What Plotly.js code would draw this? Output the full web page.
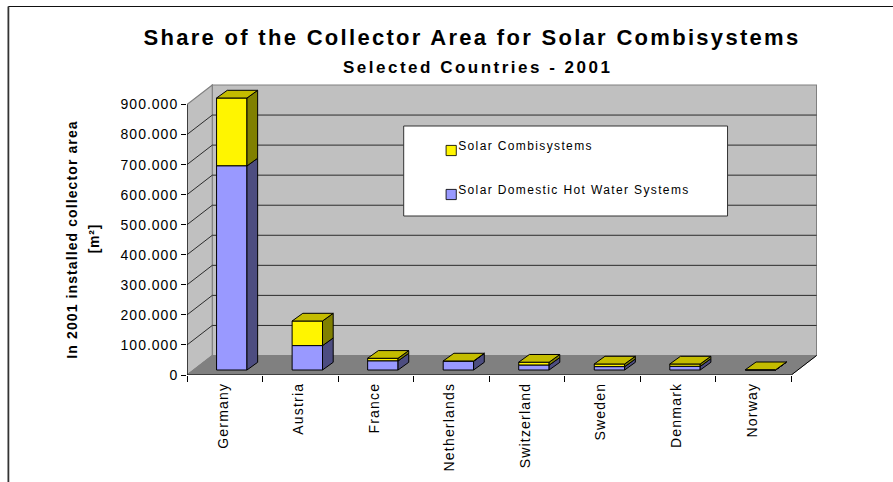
<!DOCTYPE html>
<html><head><meta charset="utf-8">
<script src="https://cdn.plot.ly/plotly-3.0.1.min.js"></script>
<style>
html,body{margin:0;padding:0;background:#fff;overflow:hidden}
#chart{width:893px;height:482px}
.gtitle{letter-spacing:2.3px}
.annotation-text{letter-spacing:2.5px}
.ytick text{letter-spacing:1px}
.xtick text{letter-spacing:1.2px}
.ytitle{letter-spacing:1.1px}
.legend .scrollbox{clip-path:none!important}
.legend .legendtext{letter-spacing:1.37px;transform:translate(-13px,-1px)}
.legend .legendpoints path{transform:translate(20px,4px) scale(.85)}
</style></head><body><div id="chart"></div>
<script>
var countries=["Germany","Austria","France","Netherlands","Switzerland","Sweden","Denmark","Norway"];
var hotWater=[679000,81000,30000,29000,16000,11000,12000,500];
var combi=[226000,82000,9000,1000,10000,9000,8000,500];
var yTicks=[0,100000,200000,300000,400000,500000,600000,700000,800000,900000];
var yLabels=["0","100.000","200.000","300.000","400.000","500.000","600.000","700.000","800.000","900.000"];

// pixel frame of the front plane
var W=893,H=482,L=186.7,R=817,T=84,B=375;
var pxPerCat=75.575, pxPerVal=270.5/900000;
var dx=function(p){return p/pxPerCat}, dy=function(p){return p/pxPerVal};
var wallX=dx(25.3), wallY=dy(19.5);
var barOffX=dx(7), barOffY=dy(5), barW=dx(30.4), sideX=dx(10.7), sideY=dy(7.7);
var n=countries.length, maxV=yTicks[yTicks.length-1];

function poly(xs,ys,fill,lc,lw,layer){
  var p='M'+xs.map(function(x,i){return x+','+ys[i]}).join('L')+'Z';
  return {type:'path',path:p,xref:'x',yref:'y',fillcolor:fill,line:{color:lc,width:lw},layer:layer||'below'};
}
function seg(xs,ys,lc,lw){
  return {type:'path',path:'M'+xs.map(function(x,i){return x+','+ys[i]}).join('L'),xref:'x',yref:'y',
    line:{color:lc,width:lw},layer:'below'};
}
var shapes=[];
// back wall, left wall, floor
shapes.push(poly([wallX,n+wallX,n+wallX,wallX],[wallY,wallY,maxV+wallY,maxV+wallY],'#C0C0C0','#808080',1.2));
shapes.push(poly([0,wallX,wallX,0],[0,wallY,maxV+wallY,maxV],'#C0C0C0','#808080',1.2));
shapes.push(poly([0,n,n+wallX,wallX],[0,0,wallY,wallY],'#808080','#808080',1));
// gridlines
yTicks.slice(1,-1).forEach(function(v){
  shapes.push(seg([0,wallX,n+wallX],[v,v+wallY,v+wallY],'#2b2b2b',1));
});
// axis lines
shapes.push(seg([0,0],[0,maxV],'#000',1.2));
shapes.push(seg([0,n],[0,0],'#000',1.2));
shapes.push(seg([n,n+wallX],[0,wallY],'#000',1));
// legend box
var fx=function(p){return (p-L)/(R-L)}, fy=function(p){return (B-p)/(B-T)};
shapes.push({type:'rect',xref:'paper',yref:'paper',layer:'above',
  x0:fx(403.5),x1:fx(727.5),y0:fy(216),y1:fy(126),
  fillcolor:'#fff',line:{color:'#333',width:1}});
// chart frame
shapes.push({type:'path',xref:'paper',yref:'paper',layer:'below',
  path:'M'+fx(8)+','+fy(482)+'L'+fx(8)+','+fy(6.5),line:{color:'#333',width:1.8}});
shapes.push({type:'path',xref:'paper',yref:'paper',layer:'below',
  path:'M'+fx(8)+','+fy(6.5)+'L'+fx(893)+','+fy(6.5),line:{color:'#111',width:1.2}});

var centers=countries.map(function(_,i){return i+0.5+barOffX});
var lowerBase=countries.map(function(){return barOffY});
var upperBase=hotWater.map(function(v){return v+barOffY});
var edge={color:'#000',width:1};
var traces=[
 {type:'bar',name:'Solar Combisystems',x:centers,y:combi,base:upperBase,width:barW,legendgroup:'b',
  marker:{color:'#FFF500',line:edge},hoverinfo:'y'},
 {type:'bar',name:'Solar Domestic Hot Water Systems',x:centers,y:hotWater,base:lowerBase,width:barW,legendgroup:'a',
  marker:{color:'#9999FF',line:edge},hoverinfo:'y'}
];
function face(xs,ys,color){
  traces.push({type:'scatter',mode:'lines',x:xs,y:ys,fill:'toself',fillcolor:color,
    line:{color:'#000',width:1},showlegend:false,hoverinfo:'skip'});
}
countries.forEach(function(_,i){
  var xr=centers[i]+barW/2, xl=centers[i]-barW/2, y0=barOffY, y1=y0+hotWater[i], y2=y1+combi[i];
  face([xr,xr+sideX,xr+sideX,xr,xr],[y0,y0+sideY,y1+sideY,y1,y0],'#4D4D80');
  face([xr,xr+sideX,xr+sideX,xr,xr],[y1,y1+sideY,y2+sideY,y2,y1],'#808000');
  face([xl,xr,xr+sideX,xl+sideX,xl],[y2,y2,y2+sideY,y2+sideY,y2],'#C4BC00');
});

var FONT='Liberation Sans, Arial, sans-serif';
var layout={
 width:W,height:H,paper_bgcolor:'#fff',plot_bgcolor:'rgba(0,0,0,0)',
 margin:{l:L,r:W-R,t:T,b:H-B,pad:0},
 barmode:'overlay',showlegend:true,
 font:{family:FONT,color:'#000',size:14},
 title:{text:'<b>Share of the Collector Area for Solar Combisystems</b>',
   font:{family:FONT,size:22,color:'#000'},x:472/W,xanchor:'center',y:1-37/H,yanchor:'middle'},
 xaxis:{range:[0,(R-L)/pxPerCat],tickmode:'array',tickvals:countries.map(function(_,i){return i+0.48}),ticktext:countries,
   tickangle:-90,ticks:'',showgrid:false,zeroline:false,showline:false,fixedrange:true,
   tickfont:{family:FONT,size:14},ticklabelstandoff:4,
   minor:{tickmode:'array',tickvals:countries.map(function(_,i){return i}).concat([n]),ticks:'outside',ticklen:6,tickwidth:1,tickcolor:'#000',showgrid:false}},
 yaxis:{range:[0,(B-T)/pxPerVal],tickmode:'array',tickvals:yTicks,ticktext:yLabels,ticks:'outside',ticklen:5,tickwidth:1,tickcolor:'#000',
   showgrid:false,zeroline:false,showline:false,fixedrange:true,tickfont:{family:FONT,size:14},
   title:{text:'<b>In 2001 installed collector area&nbsp;&nbsp;&nbsp;&nbsp;</b>',font:{family:FONT,size:14},standoff:39}},
 legend:{x:fx(431),xanchor:'left',y:fy(132),yanchor:'top',bgcolor:'rgba(0,0,0,0)',borderwidth:0,
   font:{family:FONT,size:12},traceorder:'grouped',tracegroupgap:25,itemclick:false,itemdoubleclick:false},
 annotations:[
  {xref:'paper',yref:'paper',x:fx(477),y:fy(67),xanchor:'center',yanchor:'middle',showarrow:false,
   text:'<b>Selected Countries - 2001</b>',font:{family:FONT,size:17,color:'#000'}},
  {xref:'paper',yref:'paper',x:fx(94),y:fy(238),xanchor:'center',yanchor:'middle',showarrow:false,textangle:-90,
   text:'<b><span style="letter-spacing:.8px">[m²]</span></b>',font:{family:FONT,size:14,color:'#000'}}],
 shapes:shapes
};
Plotly.newPlot('chart',traces,layout,{displayModeBar:false,staticPlot:false});
</script></body></html>
